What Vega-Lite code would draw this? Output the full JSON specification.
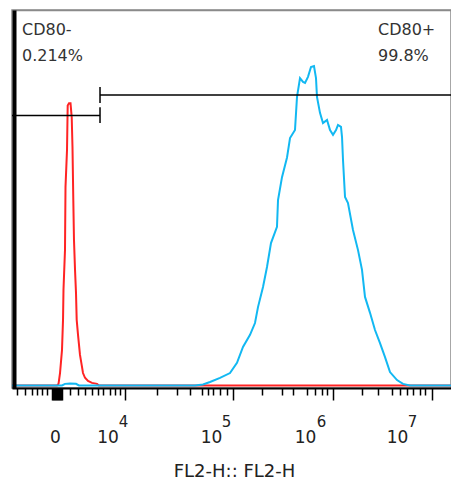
{
  "$schema": "https://vega.github.io/schema/vega-lite/v6.json",
  "width": 439,
  "height": 378,
  "autosize": "none",
  "padding": {"left": 12, "top": 10, "right": 0, "bottom": 92},
  "background": "white",
  "config": {"view": {"stroke": "#8a8a8a", "strokeWidth": 1.5}, "axis": {"grid": false}},
  "datasets": {
    "red": [
      {"c": 0, "v": 0}, {"c": 105, "v": 0}, {"c": 108.5, "v": 0.5}, {"c": 112, "v": 3.9}, {"c": 116.6, "v": 11.1},
      {"c": 119, "v": 20.6}, {"c": 120.1, "v": 30}, {"c": 123.6, "v": 42.5}, {"c": 124.8, "v": 62.3}, {"c": 128.3, "v": 73.9},
      {"c": 129.9, "v": 87.9}, {"c": 133, "v": 88.6}, {"c": 136.5, "v": 88.6}, {"c": 139.3, "v": 84.2}, {"c": 141.1, "v": 74.9},
      {"c": 143, "v": 58.2}, {"c": 144.6, "v": 45.7}, {"c": 147, "v": 36.3}, {"c": 149.3, "v": 29}, {"c": 150.9, "v": 20.6},
      {"c": 154, "v": 15.9}, {"c": 158.6, "v": 9.6}, {"c": 162.6, "v": 6.4}, {"c": 165.6, "v": 3.9}, {"c": 170.3, "v": 2.4},
      {"c": 177.3, "v": 1.4}, {"c": 186.6, "v": 0.8}, {"c": 198.3, "v": 0.5}, {"c": 202.9, "v": 0}, {"c": 1024, "v": 0}
    ],
    "blue": [
      {"c": 0, "v": 0}, {"c": 116.6, "v": 0}, {"c": 123.6, "v": 0.5}, {"c": 135.3, "v": 0.6}, {"c": 149.3, "v": 0.5},
      {"c": 156.3, "v": 0}, {"c": 426.9, "v": 0}, {"c": 445.5, "v": 0.3}, {"c": 461.9, "v": 1.1}, {"c": 485.2, "v": 2.4},
      {"c": 508.5, "v": 3.9}, {"c": 524.8, "v": 7.1}, {"c": 538.8, "v": 12.1}, {"c": 555.2, "v": 15.9}, {"c": 566.8, "v": 19.6},
      {"c": 573.8, "v": 24.6}, {"c": 585.5, "v": 30.9}, {"c": 594.8, "v": 37.2}, {"c": 604.1, "v": 44.7}, {"c": 618.1, "v": 49.8},
      {"c": 620.5, "v": 58.2}, {"c": 629.8, "v": 65.4}, {"c": 641.5, "v": 71.6}, {"c": 648.5, "v": 77.7}, {"c": 660.1, "v": 80.2},
      {"c": 664.8, "v": 90.6}, {"c": 671.8, "v": 96.5}, {"c": 678.8, "v": 95.3}, {"c": 683.5, "v": 95.0}, {"c": 690.4, "v": 96.9},
      {"c": 697.4, "v": 100}, {"c": 704.4, "v": 100.3}, {"c": 709.1, "v": 96.5}, {"c": 711.4, "v": 90.6}, {"c": 718.4, "v": 85.6},
      {"c": 725.4, "v": 82.4}, {"c": 734.8, "v": 83.4}, {"c": 741.8, "v": 80.2}, {"c": 748.8, "v": 78.7}, {"c": 755.8, "v": 80.2},
      {"c": 760.4, "v": 81.8}, {"c": 767.4, "v": 81.2}, {"c": 769.8, "v": 78.0}, {"c": 772.1, "v": 70.8}, {"c": 776.8, "v": 59.2},
      {"c": 783.7, "v": 57.3}, {"c": 795.4, "v": 48.8}, {"c": 807.1, "v": 42.5}, {"c": 816.4, "v": 36.3}, {"c": 823.4, "v": 27.8},
      {"c": 835.1, "v": 22.8}, {"c": 846.7, "v": 17.4}, {"c": 858.4, "v": 13.3}, {"c": 870.1, "v": 8.9}, {"c": 881.7, "v": 4.2},
      {"c": 898.1, "v": 1.7}, {"c": 912.0, "v": 0.5}, {"c": 928.4, "v": 0}, {"c": 1024, "v": 0}
    ],
    "gates": [
      {"c": 0, "c2": 205.3, "v": 84.8},
      {"c": 205.3, "c2": 1024, "v": 91.2}
    ],
    "gateEnds": [
      {"c": 205.3, "v": 82.4, "v2": 87.4},
      {"c": 205.3, "v": 88.7, "v2": 93.7}
    ],
    "notes": [
      {"c": 23.3, "v": 110.05, "t": "CD80-"},
      {"c": 23.3, "v": 101.9, "t": "0.214%"},
      {"c": 853.7, "v": 110.05, "t": "CD80+"},
      {"c": 853.7, "v": 101.9, "t": "99.8%"}
    ]
  },
  "layer": [
    {
      "data": {"name": "red"},
      "mark": {"type": "line", "color": "#ff2424", "strokeWidth": 2},
      "encoding": {
        "x": {
          "field": "c", "type": "quantitative",
          "scale": {"domain": [0, 1024], "nice": false, "zero": false},
          "axis": {
            "orient": "bottom",
            "values": [93.3, 96, 98, 100.3, 102.6, 105, 107.3, 109.6, 112, 114.3, 116.6, 263.6, 515.5, 748.8, 979.7],
            "tickSize": 12, "tickColor": "#000", "tickWidth": 1.5,
            "domain": true, "domainColor": "#000", "domainWidth": 2,
            "labels": false,
            "title": "FL2-H:: FL2-H",
            "titleFont": "DejaVu Sans", "titleFontSize": 18, "titleFontWeight": "normal", "titleColor": "#222",
            "titleBaseline": "alphabetic", "titleY": 88, "titleX": 222, "titleAlign": "center"
          }
        },
        "y": {
          "field": "v", "type": "quantitative",
          "scale": {"domain": [-0.8, 117.9], "nice": false, "zero": false},
          "axis": {"orient": "left", "domain": true, "domainColor": "#000", "domainWidth": 4, "ticks": false, "labels": false, "title": null, "offset": -2, "zindex": 1}
        }
      }
    },
    {
      "data": {"name": "blue"},
      "mark": {"type": "line", "color": "#12b8f2", "strokeWidth": 2},
      "encoding": {
        "x": {
          "field": "c", "type": "quantitative",
          "scale": {"domain": [0, 1024], "nice": false, "zero": false},
          "axis": {
            "orient": "bottom",
            "values": [11.7, 30.3, 46.7, 58.3, 70.0, 81.6, 135.3, 154.0, 170.3, 186.6, 200.6, 212.3, 228.6, 240.3, 251.9, 338.2, 384.9, 415.2, 443.2, 457.2, 468.9, 485.2, 501.5, 583.2, 629.8, 655.5, 688.1, 706.8, 723.1, 734.8, 816.4, 853.7, 886.4, 905.1, 921.4, 935.4, 951.7, 963.4],
            "tickSize": 7, "tickColor": "#000", "tickWidth": 1.5,
            "domain": false, "labels": false, "title": null
          }
        },
        "y": {
          "field": "v", "type": "quantitative",
          "scale": {"domain": [-0.8, 117.9], "nice": false, "zero": false},
          "axis": {"orient": "left", "domain": true, "domainColor": "#000", "domainWidth": 4, "ticks": false, "labels": false, "title": null, "offset": -2, "zindex": 1}
        }
      }
    },
    {
      "data": {"name": "gates"},
      "mark": {"type": "rule", "color": "#000", "strokeWidth": 1.5},
      "encoding": {
        "x": {
          "field": "c", "type": "quantitative",
          "scale": {"domain": [0, 1024], "nice": false, "zero": false},
          "axis": {
            "orient": "bottom",
            "values": [100.3, 222.8, 464.2, 683.5, 898.1],
            "ticks": false, "tickSize": 0, "domain": false, "title": null,
            "labelExpr": "datum.value < 150 ? '0' : '10'",
            "labelFont": "DejaVu Sans", "labelFontSize": 17, "labelColor": "#222",
            "labelBaseline": "alphabetic", "labelPadding": 54, "labelAlign": "center",
            "labelOverlap": false, "labelFlush": false, "labelBound": false
          }
        },
        "x2": {"field": "c2"},
        "y": {
          "field": "v", "type": "quantitative",
          "scale": {"domain": [-0.8, 117.9], "nice": false, "zero": false},
          "axis": {"orient": "left", "domain": true, "domainColor": "#000", "domainWidth": 4, "ticks": false, "labels": false, "title": null, "offset": -2, "zindex": 1}
        }
      }
    },
    {
      "data": {"name": "gateEnds"},
      "mark": {"type": "rule", "color": "#000", "strokeWidth": 1.5},
      "encoding": {
        "x": {
          "field": "c", "type": "quantitative",
          "scale": {"domain": [0, 1024], "nice": false, "zero": false},
          "axis": {
            "orient": "bottom",
            "values": [258.9, 499.2, 720.8, 933.0],
            "ticks": false, "tickSize": 0, "domain": false, "title": null,
            "labelExpr": "datum.value < 300 ? '4' : datum.value < 600 ? '5' : datum.value < 800 ? '6' : '7'",
            "labelFont": "DejaVu Sans", "labelFontSize": 15, "labelColor": "#222",
            "labelBaseline": "alphabetic", "labelPadding": 38, "labelAlign": "center",
            "labelOverlap": false, "labelFlush": false, "labelBound": false
          }
        },
        "y": {
          "field": "v", "type": "quantitative",
          "scale": {"domain": [-0.8, 117.9], "nice": false, "zero": false},
          "axis": {"orient": "left", "domain": true, "domainColor": "#000", "domainWidth": 4, "ticks": false, "labels": false, "title": null, "offset": -2, "zindex": 1}
        },
        "y2": {"field": "v2"}
      }
    },
    {
      "data": {"name": "notes"},
      "mark": {"type": "text", "align": "left", "baseline": "alphabetic", "font": "DejaVu Sans", "fontSize": 16, "color": "#333"},
      "encoding": {
        "x": {
          "field": "c", "type": "quantitative",
          "scale": {"domain": [0, 1024], "nice": false, "zero": false},
          "axis": {"orient": "top", "domain": true, "domainColor": "#8a8a8a", "domainWidth": 1.5, "ticks": false, "labels": false, "title": null}
        },
        "y": {
          "field": "v", "type": "quantitative",
          "scale": {"domain": [-0.8, 117.9], "nice": false, "zero": false},
          "axis": {"orient": "left", "domain": true, "domainColor": "#000", "domainWidth": 4, "ticks": false, "labels": false, "title": null, "offset": -2, "zindex": 1}
        },
        "text": {"field": "t"}
      }
    }
  ],
  "resolve": {"axis": {"x": "independent"}}
}
